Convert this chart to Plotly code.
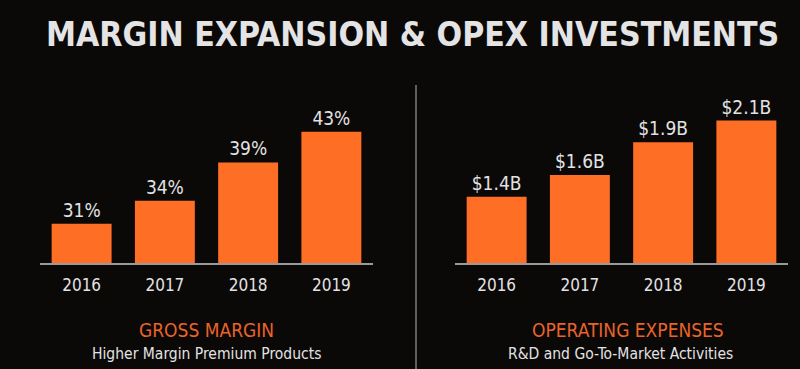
import plotly.graph_objects as go

years = ["2016", "2017", "2018", "2019"]
gross_margin = [31, 34, 39, 43]
gross_labels = ["31%", "34%", "39%", "43%"]
opex = [1.4, 1.6, 1.9, 2.1]
opex_labels = ["$1.4B", "$1.6B", "$1.9B", "$2.1B"]

title = "MARGIN EXPANSION & OPEX INVESTMENTS"
left_head, left_sub = "GROSS MARGIN", "Higher Margin Premium Products"
right_head, right_sub = "OPERATING EXPENSES", "R&D and Go-To-Market Activities"

W, H = 800, 369
BG = "#0b0808"
ORANGE = "#FF6E25"
TXT = "#E2E2E2"
FONT = "DejaVu Sans Condensed, Roboto, sans-serif"

def px_x(p):
    return p / W

def px_y(p):
    return 1 - p / H

fig = go.Figure()
fig.add_trace(go.Bar(x=years, y=gross_margin, text=gross_labels, textposition="outside",
                     constraintext="none", cliponaxis=False,
                     textfont=dict(family=FONT, size=19, color=TXT),
                     marker=dict(color=ORANGE, line=dict(width=0)),
                     xaxis="x", yaxis="y", hoverinfo="skip"))
fig.add_trace(go.Bar(x=years, y=opex, text=opex_labels, textposition="outside",
                     constraintext="none", cliponaxis=False,
                     textfont=dict(family=FONT, size=19, color=TXT),
                     marker=dict(color=ORANGE, line=dict(width=0)),
                     xaxis="x2", yaxis="y2", hoverinfo="skip"))

annotations = [
    dict(x=px_x(412), y=px_y(34), text=f"<b>{title}</b>",
         font=dict(family=FONT, size=33.5, color="#E4E4E4")),
    dict(x=px_x(207), y=px_y(330), text=left_head,
         font=dict(family=FONT, size=19, color="#E8642A")),
    dict(x=px_x(207), y=px_y(354), text=left_sub,
         font=dict(family=FONT, size=15.5, color=TXT)),
    dict(x=px_x(628), y=px_y(330), text=right_head,
         font=dict(family=FONT, size=19, color="#E8642A")),
    dict(x=px_x(620), y=px_y(354), text=right_sub,
         font=dict(family=FONT, size=15.5, color=TXT)),
]
for a in annotations:
    a.update(xref="paper", yref="paper", showarrow=False, xanchor="center", yanchor="middle")

ydom = [px_y(263), px_y(88)]
axis_x = dict(type="category", range=[-0.5, 3.5], showgrid=False, zeroline=False, showline=True,
              linecolor="#9a9a9a", linewidth=1.5, ticks="outside", ticklen=6,
              tickcolor="rgba(0,0,0,0)", tickfont=dict(family=FONT, size=17, color=TXT),
              fixedrange=True)
axis_y = dict(showgrid=False, zeroline=False, showline=False, showticklabels=False, fixedrange=True,
              domain=ydom)

fig.update_layout(
    width=W, height=H,
    margin=dict(l=0, r=0, t=0, b=0),
    paper_bgcolor=BG, plot_bgcolor="rgba(0,0,0,0)",
    showlegend=False, bargap=0.28,
    xaxis=dict(axis_x, domain=[px_x(40), px_x(373)], anchor="y"),
    yaxis=dict(axis_y, range=[25.9, 48.7], anchor="x"),
    xaxis2=dict(axis_x, domain=[px_x(455), px_x(788)], anchor="y2"),
    yaxis2=dict(axis_y, range=[0.79, 2.40], anchor="x2"),
    annotations=annotations,
    shapes=[dict(type="line", xref="paper", yref="paper", x0=px_x(416), x1=px_x(416),
                 y0=px_y(85), y1=0, line=dict(color="#b5b5b5", width=1))],
)

fig.write_html("out.html", config={"displayModeBar": False},
               post_script="document.body.style.margin='0';document.body.style.background='#0b0808';")
